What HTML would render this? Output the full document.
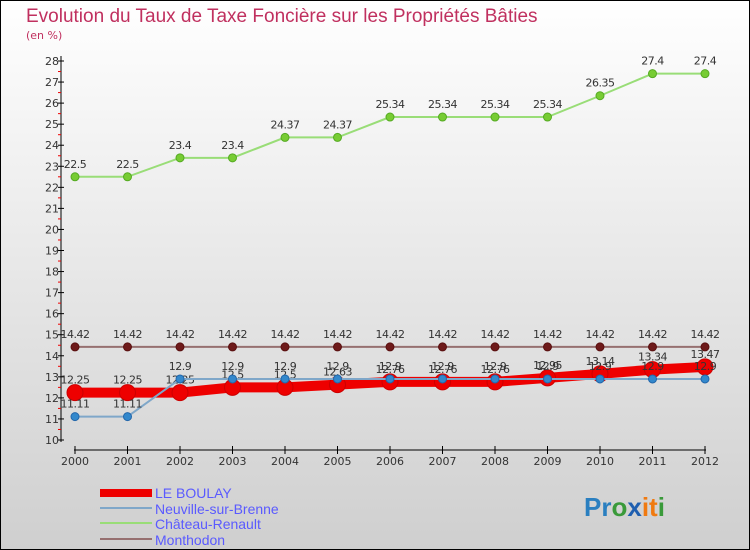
<!DOCTYPE html>
<html><head><meta charset="utf-8"><style>
body{margin:0;padding:0}
svg{display:block;font-family:"DejaVu Sans","Liberation Sans",sans-serif}
</style></head><body>
<svg id="chart" width="750" height="550" viewBox="0 0 750 550" xmlns="http://www.w3.org/2000/svg">
<defs><linearGradient id="bg" x1="0" y1="0" x2="0" y2="1"><stop offset="0" stop-color="#ffffff"/><stop offset="1" stop-color="#cfcfcf"/></linearGradient></defs>
<rect x="0.5" y="0.5" width="749" height="549" fill="url(#bg)" stroke="#000"/>
<text x="26" y="22" font-size="19" fill="#c0305f" style="font-family:'Liberation Sans',sans-serif">Evolution du Taux de Taxe Foncière sur les Propriétés Bâties</text>
<text x="26" y="39" font-size="11" fill="#c0305f">(en %)</text>
<g id="axes"></g>
<g id="series"></g>
<g>
<rect x="100" y="489" width="52" height="8" fill="#e00"/>
<line x1="100" y1="508" x2="152" y2="508" stroke="#7fa7c9" stroke-width="2"/>
<line x1="100" y1="523" x2="152" y2="523" stroke="#99dd77" stroke-width="2"/>
<line x1="100" y1="539" x2="152" y2="539" stroke="#967070" stroke-width="2"/>
<g font-size="14" fill="#5a5aff" style="font-family:'Liberation Sans',sans-serif">
<text x="155" y="498">LE BOULAY</text>
<text x="155" y="514">Neuville-sur-Brenne</text>
<text x="155" y="529">Château-Renault</text>
<text x="155" y="545">Monthodon</text>
</g></g>
<g font-size="26" font-weight="bold" style="font-family:'Liberation Sans',sans-serif">
<text x="584" y="516"><tspan fill="#2a7fc0">Pr</tspan><tspan fill="#3a9a3a">o</tspan><tspan fill="#1f5fb0">x</tspan><tspan fill="#f07a10">it</tspan><tspan fill="#3a9a3a">i</tspan></text>
</g>
</svg>
<script>
const years=[2000,2001,2002,2003,2004,2005,2006,2007,2008,2009,2010,2011,2012];
const yTicks=[10,11,12,13,14,15,16,17,18,19,20,21,22,23,24,25,26,27,28];
const leBoulay=[12.25,12.25,12.25,12.5,12.5,12.63,12.76,12.76,12.76,12.95,13.14,13.34,13.47];
const neuville=[11.11,11.11,12.9,12.9,12.9,12.9,12.9,12.9,12.9,12.9,12.9,12.9,12.9];
const chateau=[22.5,22.5,23.4,23.4,24.37,24.37,25.34,25.34,25.34,25.34,26.35,27.4,27.4];
const monthodon=[14.42,14.42,14.42,14.42,14.42,14.42,14.42,14.42,14.42,14.42,14.42,14.42,14.42];
const NS="http://www.w3.org/2000/svg";
const x=i=>75+i*52.5;
const y=v=>440-(v-10)*(379/18);
function mk(tag,attrs,parent){const e=document.createElementNS(NS,tag);for(const k in attrs)e.setAttribute(k,attrs[k]);parent.appendChild(e);return e;}
const ax=document.getElementById('axes');
let l=mk('line',{x1:61,y1:56,x2:61,y2:442,stroke:'#000'},ax);


l=mk('line',{x1:74,y1:450,x2:706,y2:450,stroke:'#000'},ax);


yTicks.forEach(v=>{
 const t=mk('line',{x1:58,y1:y(v),x2:64,y2:y(v),stroke:'#000'},ax);
 
 
 if(v<28){const m=mk('line',{x1:58,y1:y(v+0.5),x2:61,y2:y(v+0.5),stroke:'#e00'},ax);
 
 }
 const tx=mk('text',{x:59,y:y(v)+4,'font-size':11,fill:'#333','text-anchor':'end'},ax);
 tx.textContent=v;
 
 
});
years.forEach((yr,i)=>{
 const t=mk('line',{x1:x(i),y1:446,x2:x(i),y2:454,stroke:'#000'},ax);
 
 
 const tx=mk('text',{x:x(i),y:465,'font-size':11,fill:'#333','text-anchor':'middle'},ax);
 tx.textContent=yr;
 
 
});
const sg=document.getElementById('series');
function series(name,vals,line,w,dot,r,stroke){
 const g=mk('g',{},sg);
 
 
 const p=mk('polyline',{points:vals.map((v,i)=>x(i)+','+y(v)).join(' '),fill:'none',stroke:line,'stroke-width':w},g);
 
 
 vals.forEach((v,i)=>{
  const c=mk('circle',{cx:x(i),cy:y(v),r:r,fill:dot,stroke:stroke,'stroke-width':1},g);
  
  
  const t=mk('text',{x:x(i),y:y(v)-9,'font-size':11,fill:'#333','text-anchor':'middle','letter-spacing':'-0.5'},g);
  t.textContent=v;
  
  
 });
}
series('monthodon',monthodon,'#967070',2,'#6e1a1a',4,'#5a1010');
series('chateau',chateau,'#99dd77',2,'#77cc33',4,'#55aa22');
series('le-boulay',leBoulay,'#ee0000',10,'#ee0000',8,'#c00');
series('neuville',neuville,'#7fa7c9',2,'#3388cc',4,'#2266aa');
</script>
</body></html>
